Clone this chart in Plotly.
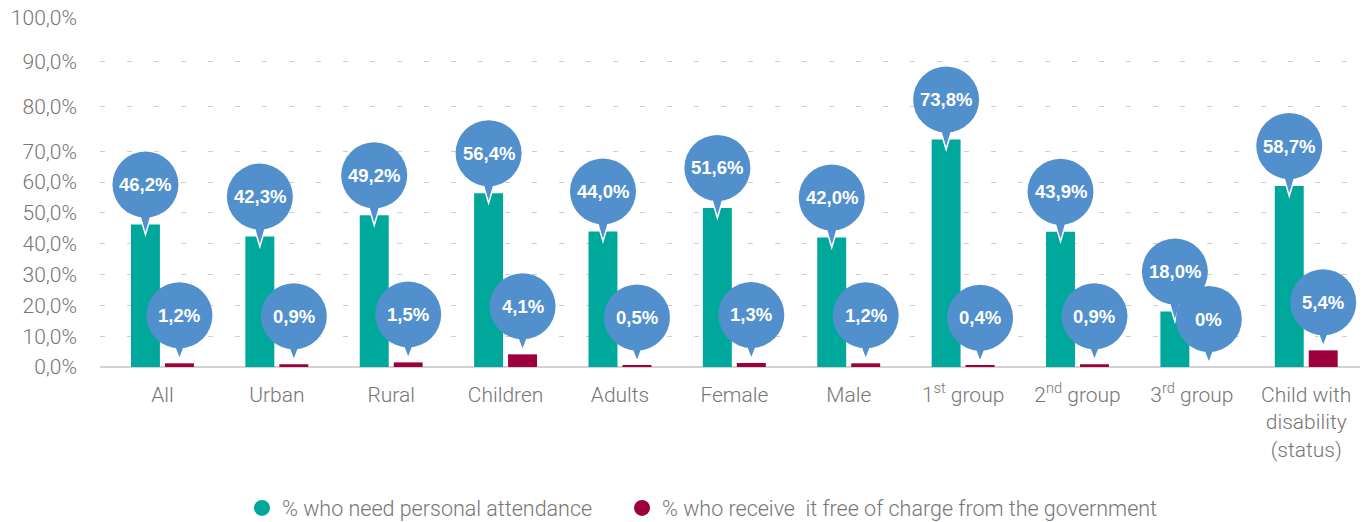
import plotly.graph_objects as go

categories = ["All", "Urban", "Rural", "Children", "Adults", "Female", "Male",
              "1<sup>st</sup> group", "2<sup>nd</sup> group", "3<sup>rd</sup> group",
              "Child with<br>disability<br>(status)"]
need_attendance = [46.2, 42.3, 49.2, 56.4, 44.0, 51.6, 42.0, 73.8, 43.9, 18.0, 58.7]
free_from_gov = [1.2, 0.9, 1.5, 4.1, 0.5, 1.3, 1.2, 0.4, 0.9, 0.0, 5.4]
need_labels = ["46,2%", "42,3%", "49,2%", "56,4%", "44,0%", "51,6%", "42,0%",
               "73,8%", "43,9%", "18,0%", "58,7%"]
free_labels = ["1,2%", "0,9%", "1,5%", "4,1%", "0,5%", "1,3%", "1,2%",
               "0,4%", "0,9%", "0%", "5,4%"]
series_names = ["% who need personal attendance",
                "% who receive  it free of charge from the government"]
# gridline positions as drawn in the source chart and their labels
y_tick_values = [0, 10, 20, 30, 40, 50, 60, 70, 84.4, 99.0, 113.5]
y_tick_text = ["0,0%", "10,0%", "20,0%", "30,0%", "40,0%", "50,0%", "60,0%",
               "70,0%", "80,0%", "90,0%", "100,0%"]

TEAL = "rgb(0,168,156)"
CRIMSON = "rgb(158,0,62)"
BLUE = "rgb(81,144,205)"
GRAY = "rgb(118,118,118)"

xs = list(range(len(categories)))
BW = 0.253
OFF_G = -0.275
OFF_R = 0.022

fig = go.Figure()
fig.add_trace(go.Bar(x=xs, y=need_attendance, offset=OFF_G, width=BW,
                     marker=dict(color=TEAL, line=dict(width=0)),
                     showlegend=False, hoverinfo="skip"))
fig.add_trace(go.Bar(x=xs, y=free_from_gov, offset=OFF_R, width=BW,
                     marker=dict(color=CRIMSON, line=dict(width=0)),
                     showlegend=False, hoverinfo="skip"))

# legend entries with round symbols, one legend box per entry
for name, col, lg in zip(series_names, [TEAL, CRIMSON], ["legend", "legend2"]):
    fig.add_trace(go.Scatter(x=[None], y=[None], mode="markers", name=name,
                             legend=lg,
                             marker=dict(symbol="circle", size=20, color=col)))

R = 33
shapes = []
annotations = []

def bubble(xc, yv, text, center, tip):
    base = center - R + 7
    shapes.append(dict(type="path", layer="above", xref="x", yref="y",
                       xsizemode="pixel", ysizemode="pixel",
                       xanchor=xc, yanchor=yv,
                       path=f"M -7,{base} L 7,{base} L 0,{tip} Z",
                       fillcolor=BLUE, line=dict(color="white", width=1.5)))
    shapes.append(dict(type="circle", layer="above", xref="x", yref="y",
                       xsizemode="pixel", ysizemode="pixel",
                       xanchor=xc, yanchor=yv,
                       x0=-R, x1=R, y0=center - R, y1=center + R,
                       fillcolor=BLUE, line=dict(width=0)))
    annotations.append(dict(x=xc, y=yv, xref="x", yref="y", text=f"<b>{text}</b>",
                            showarrow=False, yshift=center, xanchor="center",
                            yanchor="middle",
                            font=dict(family="Liberation Sans", size=18.5, color="white")))

for i in xs:
    bubble(i + OFF_G + BW / 2, need_attendance[i], need_labels[i], 40, -10)
for i in xs:
    bubble(i + OFF_R + BW / 2, free_from_gov[i], free_labels[i], 48, 4)

legend_style = dict(orientation="h", xanchor="left", yref="container", y=0.027,
                    yanchor="middle", bgcolor="rgba(0,0,0,0)",
                    font=dict(family="Roboto", size=21.5, color=GRAY, weight=300),
                    itemsizing="trace")

fig.update_layout(
    width=1364, height=522,
    margin=dict(l=100, r=4, t=17, b=155, autoexpand=False),
    paper_bgcolor="white", plot_bgcolor="white",
    barmode="overlay",
    shapes=shapes, annotations=annotations,
    font=dict(family="Roboto", color=GRAY),
    showlegend=True,
    legend=dict(x=0.1127, **legend_style),
    legend2=dict(x=0.4143, **legend_style),
)
fig.update_xaxes(range=[-0.546, 10.47], tickmode="array", tickvals=xs, ticktext=categories,
                 showgrid=False, zeroline=False, showline=False, ticks="",
                 tickfont=dict(family="Roboto", size=21, color=GRAY, weight=300),
                 ticklabelstandoff=13, fixedrange=True, automargin=False)
fig.update_yaxes(range=[0, 113.55], tickmode="array", tickvals=y_tick_values, ticktext=y_tick_text,
                 showgrid=True, gridcolor="rgb(205,205,205)", gridwidth=1, griddash="5px,22px",
                 zeroline=True, zerolinecolor="rgb(210,210,210)", zerolinewidth=2,
                 showline=False, ticks="",
                 tickfont=dict(family="Roboto", size=21, color=GRAY, weight=300),
                 ticklabelstandoff=22, fixedrange=True, automargin=False)

fig.write_html("out.html", config={"displayModeBar": False},
               post_script="document.body.style.margin='0px';")
